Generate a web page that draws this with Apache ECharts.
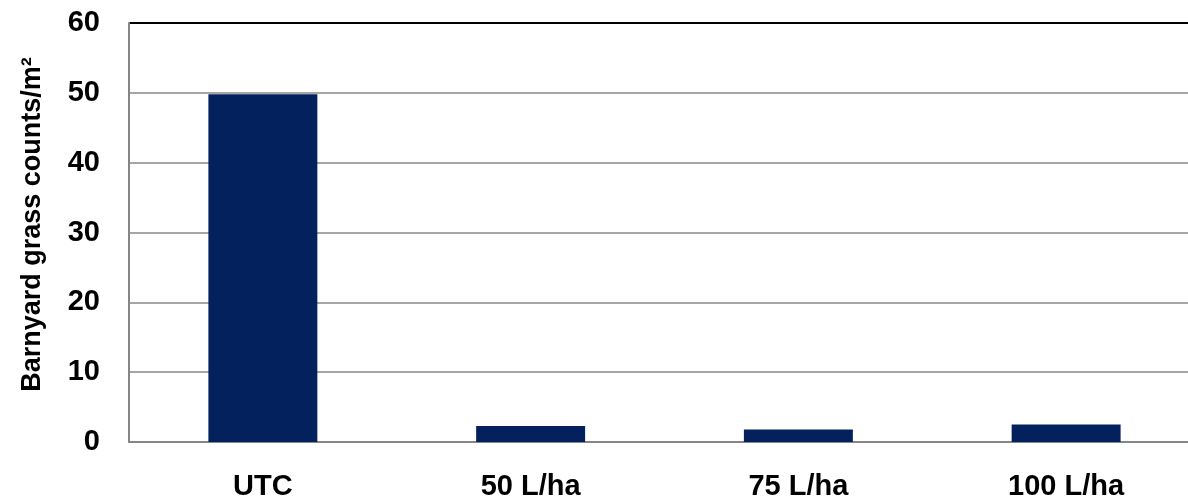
<!DOCTYPE html>
<html>
<head>
<meta charset="utf-8">
<script src="https://cdn.jsdelivr.net/npm/echarts@6/dist/echarts.min.js"></script>
<style>
  html, body { margin: 0; padding: 0; background: #ffffff; overflow: hidden; }
  #chart { width: 1188px; height: 497px; }
</style>
</head>
<body>
<div id="chart"></div>
<script>
// Weed density per treatment
const categories = ['UTC', '50 L/ha', '75 L/ha', '100 L/ha'];
const counts = [49.8, 2.3, 1.8, 2.5];
const yTicks = { min: 0, max: 60, interval: 10 };
const yName = 'Barnyard grass counts/m\u00B2';

const FONT = "'Liberation Sans', Arial, sans-serif";

const chart = echarts.init(document.getElementById('chart'), null, { renderer: 'canvas' });
chart.setOption({
  animation: false,
  // the plot continues a little past the right edge of the canvas
  grid: {
    left: 129, top: 23, width: 1071, height: 419,
    containLabel: false, outerBoundsMode: 'none'
  },
  xAxis: {
    type: 'category',
    data: categories,
    axisLine: { show: true, lineStyle: { color: '#868686', width: 2 } },
    axisTick: { show: false },
    axisLabel: {
      color: '#000', fontFamily: FONT, fontWeight: 'bold', fontSize: 29, margin: 30
    }
  },
  yAxis: {
    type: 'value',
    min: yTicks.min, max: yTicks.max, interval: yTicks.interval,
    name: yName,
    nameLocation: 'middle',
    nameGap: 83,
    nameTextStyle: {
      color: '#000', fontFamily: FONT, fontWeight: 'bold', fontSize: 27,
      padding: [0, 0, 0, 16]
    },
    axisLine: { show: true, lineStyle: { color: '#868686', width: 2 } },
    axisTick: { show: false },
    axisLabel: {
      color: '#000', fontFamily: FONT, fontWeight: 'bold', fontSize: 29, margin: 29
    },
    splitLine: {
      show: true,
      lineStyle: {
        color: ['#a6a6a6', '#a6a6a6', '#a6a6a6', '#a6a6a6', '#a6a6a6', '#a6a6a6', '#000000'],
        width: 2
      }
    }
  },
  series: [{
    type: 'bar',
    data: counts,
    barWidth: '40.7%',
    itemStyle: { color: '#03215c' }
  }]
});
</script>
</body>
</html>
